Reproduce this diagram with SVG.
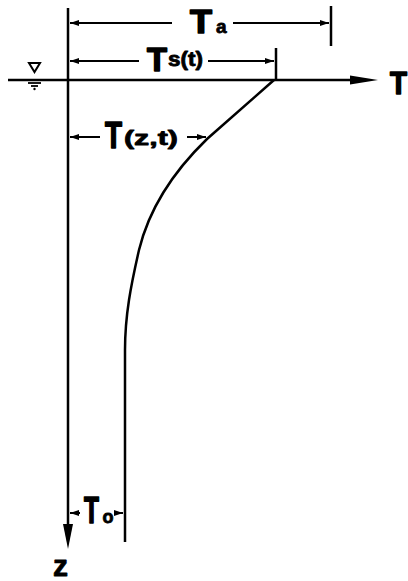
<svg xmlns="http://www.w3.org/2000/svg" width="408" height="581" viewBox="0 0 408 581">
<defs>
<marker id="dim" markerUnits="userSpaceOnUse" markerWidth="10" markerHeight="8" refX="9" refY="3.5" orient="auto-start-reverse"><path d="M0,0.5 L9,3.5 L0,6.5 z" fill="#000"/></marker>
<style>
.ln{stroke:#000;stroke-width:2.5;fill:none}
.dm{stroke:#000;stroke-width:2;fill:none}
.t{font-family:"Liberation Sans",Arial,sans-serif;font-weight:bold;fill:#000}
.h{stroke:#000;stroke-width:1.6;stroke-linejoin:round}
.s{stroke:#000;stroke-width:0.8;stroke-linejoin:round}
</style>
</defs>
<rect width="408" height="581" fill="#fff"/>
<g id="connectors">
<line id="t-axis" class="ln" x1="8" y1="80" x2="352" y2="80"/>
<polygon points="350,75.5 378,80 350,84.5" fill="#000"/>
<line id="z-axis" class="ln" x1="68" y1="8" x2="68" y2="528"/>
<polygon points="63,524 68,549 73,524" fill="#000"/>
<path id="profile" class="ln" d="M274,80 L207,139 C175,170 150,205 139,250 C131,285 125,315 125,350 L125,542"/>
<line class="ln" x1="331" y1="6" x2="331" y2="46"/>
<line class="ln" x1="276" y1="48" x2="276" y2="80"/>
<line class="dm" x1="70" y1="23" x2="172" y2="23" marker-start="url(#dim)"/>
<line class="dm" x1="233" y1="23" x2="329" y2="23" marker-end="url(#dim)"/>
<line class="dm" x1="70" y1="61" x2="139" y2="61" marker-start="url(#dim)"/>
<line class="dm" x1="208" y1="61" x2="274" y2="61" marker-end="url(#dim)"/>
<line class="dm" x1="70" y1="137" x2="100" y2="137" marker-start="url(#dim)"/>
<line class="dm" x1="187" y1="137" x2="206" y2="137" marker-end="url(#dim)"/>
<line class="dm" x1="70" y1="513" x2="80" y2="513" marker-start="url(#dim)"/>
<line class="dm" x1="116" y1="513" x2="123" y2="513" marker-end="url(#dim)"/>
</g>
<g id="water-surface">
<polygon points="29,63 40,63 34.5,72" fill="#fff" stroke="#000" stroke-width="2"/>
<line x1="28" y1="83" x2="41" y2="83" stroke="#000" stroke-width="1.8"/>
<line x1="31" y1="86" x2="38" y2="86" stroke="#000" stroke-width="1.8"/>
<circle cx="34.5" cy="89" r="1.2" fill="#000"/>
</g>
<g id="label-Ta"><text class="t h" x="190" y="33" font-size="33" textLength="22" lengthAdjust="spacingAndGlyphs">T</text><text class="t s" x="216" y="33" font-size="19">a</text></g>
<g id="label-Ts"><text class="t h" x="147" y="71" font-size="33" textLength="20" lengthAdjust="spacingAndGlyphs">T</text><text class="t s" x="168" y="66" font-size="20" textLength="35" lengthAdjust="spacingAndGlyphs">s(t)</text></g>
<g id="label-T"><text class="t h" x="390" y="94" font-size="32" textLength="17" lengthAdjust="spacingAndGlyphs">T</text></g>
<g id="label-Tzt"><text class="t h" x="105" y="148" font-size="36" textLength="17" lengthAdjust="spacingAndGlyphs">T</text><text class="t s" x="124" y="145" font-size="21" textLength="54" lengthAdjust="spacingAndGlyphs">(z,t)</text></g>
<g id="label-To"><text class="t h" transform="translate(84,523) scale(0.68,1)" font-size="36">T</text><text class="t s" x="102.5" y="523" font-size="18">o</text></g>
<g id="label-z"><text class="t s" x="53" y="576" font-size="30" textLength="15" lengthAdjust="spacingAndGlyphs">z</text></g>
</svg>
